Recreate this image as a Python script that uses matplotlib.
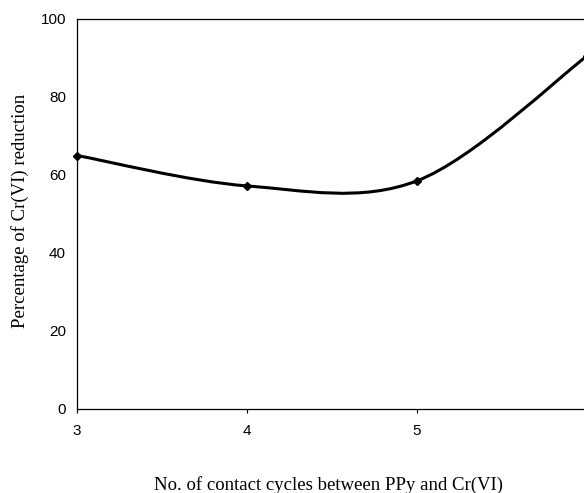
import numpy as np
import matplotlib.pyplot as plt
from matplotlib.path import Path
from matplotlib.patches import PathPatch

# Datos
cycles = [3, 4, 5, 6]
reduction = [65.0, 57.2, 58.5, 90.5]
x_ticks = [3, 4, 5, 6]
y_ticks = [0, 20, 40, 60, 80, 100]


def smooth_path(xs, ys, k=1/6.):
    # curva suavizada tipo Excel (Bezier cubica entre puntos)
    xs = np.asarray(xs, float)
    ys = np.asarray(ys, float)
    n = len(xs)
    verts = [(xs[0], ys[0])]
    codes = [Path.MOVETO]
    for i in range(n - 1):
        i0 = max(i - 1, 0)
        i3 = min(i + 2, n - 1)
        c1 = (xs[i] + (xs[i + 1] - xs[i0]) * k, ys[i] + (ys[i + 1] - ys[i0]) * k)
        c2 = (xs[i + 1] - (xs[i3] - xs[i]) * k, ys[i + 1] - (ys[i3] - ys[i]) * k)
        verts += [c1, c2, (xs[i + 1], ys[i + 1])]
        codes += [Path.CURVE4] * 3
    return Path(verts, codes)


fig = plt.figure(figsize=(5.84, 4.93), dpi=100)
ax = fig.add_axes([77/584, 1 - 409/493, 510/584, 390/493])

patch = PathPatch(smooth_path(cycles, reduction), facecolor='none',
                  edgecolor='black', lw=2.2, capstyle='round')
ax.add_patch(patch)
ax.plot(cycles, reduction, 'kD', ms=4.5, clip_on=False)

ax.set_xlim(3, 6)
ax.set_ylim(0, 100)
ax.set_xticks(x_ticks)
ax.set_yticks(y_ticks)

for lab in ax.get_xticklabels() + ax.get_yticklabels():
    lab.set_family('Liberation Sans')
    lab.set_fontsize(11)
ax.tick_params(axis='x', direction='out', length=3, width=0.8, pad=8)
ax.tick_params(axis='y', direction='out', length=0, pad=8)

for spine in ('top', 'right', 'bottom', 'left'):
    ax.spines[spine].set_linewidth(0.9)

# etiquetas de los ejes colocadas a mano
fig.text(328/584, 1 - 485/493, 'No. of contact cycles between PPy and Cr(VI)',
         family='Liberation Serif', fontsize=13.5, ha='center', va='center')
fig.text(20/584, 1 - 211/493, 'Percentage of Cr(VI) reduction',
         family='Liberation Serif', fontsize=13.5, ha='center', va='center',
         rotation=90)

fig.savefig('out.png', dpi=100)
